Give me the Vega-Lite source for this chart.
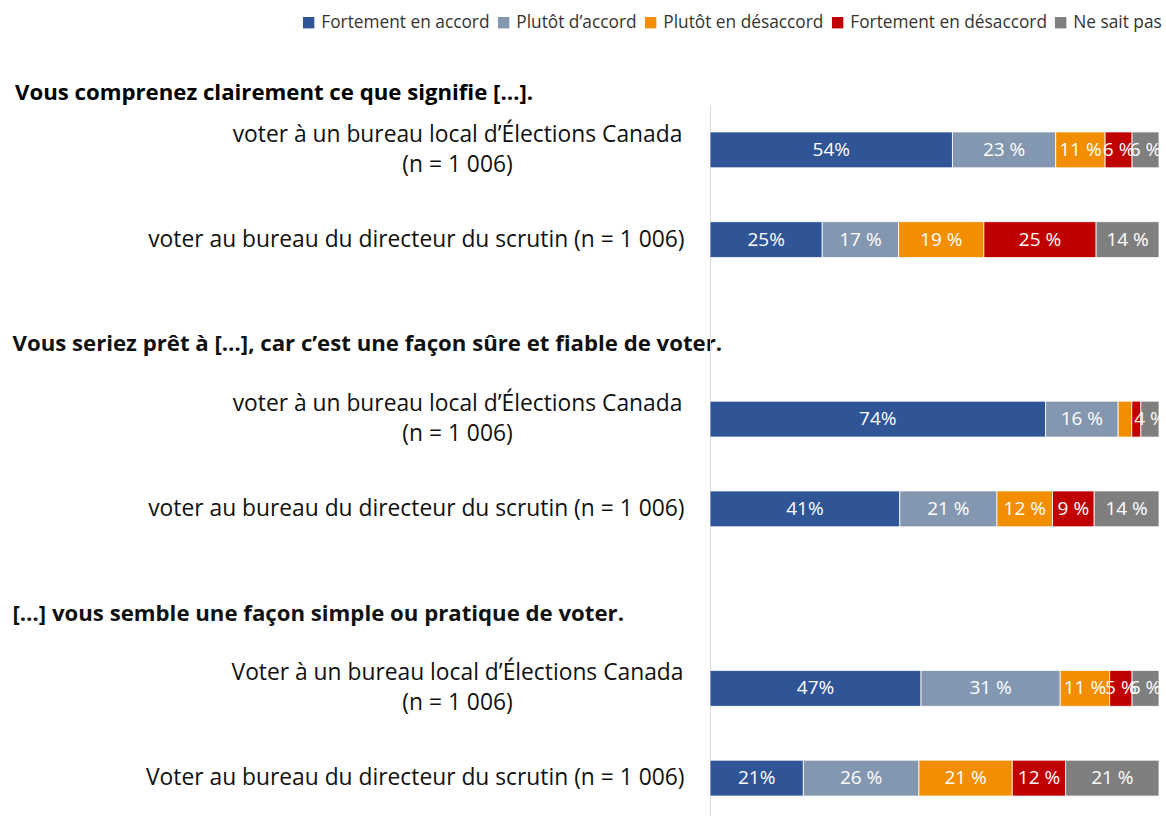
{
  "$schema": "https://vega.github.io/schema/vega-lite/v6.json",
  "autosize": "none",
  "padding": {"left": 710, "top": 105, "right": 7, "bottom": 0},
  "width": 449,
  "height": 718,
  "background": "white",
  "config": {"font": "Open Sans", "view": {"stroke": null}},
  "title": {
    "text": "Vous comprenez clairement ce que signifie […].",
    "anchor": "start",
    "frame": "group",
    "dx": -695,
    "dy": 111,
    "fontSize": 22.2,
    "fontWeight": "bold",
    "font": "Open Sans",
    "color": "#000000",
    "baseline": "alphabetic",
    "offset": 3
  },
  "data": {
    "values": [
      {"item": "1a|voter à un bureau local d’Élections Canada|(n = 1 006)", "resp": "Fortement en accord", "k": 1, "value": 54, "txt": "54%"},
      {"item": "1a|voter à un bureau local d’Élections Canada|(n = 1 006)", "resp": "Plutôt d’accord", "k": 2, "value": 23, "txt": "23 %"},
      {"item": "1a|voter à un bureau local d’Élections Canada|(n = 1 006)", "resp": "Plutôt en désaccord", "k": 3, "value": 11, "txt": "11 %"},
      {"item": "1a|voter à un bureau local d’Élections Canada|(n = 1 006)", "resp": "Fortement en désaccord", "k": 4, "value": 6, "txt": "6 %"},
      {"item": "1a|voter à un bureau local d’Élections Canada|(n = 1 006)", "resp": "Ne sait pas", "k": 5, "value": 6, "txt": "6 %"},
      {"item": "1b|voter au bureau du directeur du scrutin (n = 1 006)", "resp": "Fortement en accord", "k": 1, "value": 25, "txt": "25%"},
      {"item": "1b|voter au bureau du directeur du scrutin (n = 1 006)", "resp": "Plutôt d’accord", "k": 2, "value": 17, "txt": "17 %"},
      {"item": "1b|voter au bureau du directeur du scrutin (n = 1 006)", "resp": "Plutôt en désaccord", "k": 3, "value": 19, "txt": "19 %"},
      {"item": "1b|voter au bureau du directeur du scrutin (n = 1 006)", "resp": "Fortement en désaccord", "k": 4, "value": 25, "txt": "25 %"},
      {"item": "1b|voter au bureau du directeur du scrutin (n = 1 006)", "resp": "Ne sait pas", "k": 5, "value": 14, "txt": "14 %"},
      {"item": "2a|voter à un bureau local d’Élections Canada|(n = 1 006)", "resp": "Fortement en accord", "k": 1, "value": 74, "txt": "74%"},
      {"item": "2a|voter à un bureau local d’Élections Canada|(n = 1 006)", "resp": "Plutôt d’accord", "k": 2, "value": 16, "txt": "16 %"},
      {"item": "2a|voter à un bureau local d’Élections Canada|(n = 1 006)", "resp": "Plutôt en désaccord", "k": 3, "value": 3, "txt": ""},
      {"item": "2a|voter à un bureau local d’Élections Canada|(n = 1 006)", "resp": "Fortement en désaccord", "k": 4, "value": 2, "txt": ""},
      {"item": "2a|voter à un bureau local d’Élections Canada|(n = 1 006)", "resp": "Ne sait pas", "k": 5, "value": 4, "txt": "4 %"},
      {"item": "2b|voter au bureau du directeur du scrutin (n = 1 006)", "resp": "Fortement en accord", "k": 1, "value": 41, "txt": "41%"},
      {"item": "2b|voter au bureau du directeur du scrutin (n = 1 006)", "resp": "Plutôt d’accord", "k": 2, "value": 21, "txt": "21 %"},
      {"item": "2b|voter au bureau du directeur du scrutin (n = 1 006)", "resp": "Plutôt en désaccord", "k": 3, "value": 12, "txt": "12 %"},
      {"item": "2b|voter au bureau du directeur du scrutin (n = 1 006)", "resp": "Fortement en désaccord", "k": 4, "value": 9, "txt": "9 %"},
      {"item": "2b|voter au bureau du directeur du scrutin (n = 1 006)", "resp": "Ne sait pas", "k": 5, "value": 14, "txt": "14 %"},
      {"item": "3a|Voter à un bureau local d’Élections Canada|(n = 1 006)", "resp": "Fortement en accord", "k": 1, "value": 47, "txt": "47%"},
      {"item": "3a|Voter à un bureau local d’Élections Canada|(n = 1 006)", "resp": "Plutôt d’accord", "k": 2, "value": 31, "txt": "31 %"},
      {"item": "3a|Voter à un bureau local d’Élections Canada|(n = 1 006)", "resp": "Plutôt en désaccord", "k": 3, "value": 11, "txt": "11 %"},
      {"item": "3a|Voter à un bureau local d’Élections Canada|(n = 1 006)", "resp": "Fortement en désaccord", "k": 4, "value": 5, "txt": "5 %"},
      {"item": "3a|Voter à un bureau local d’Élections Canada|(n = 1 006)", "resp": "Ne sait pas", "k": 5, "value": 6, "txt": "6 %"},
      {"item": "3b|Voter au bureau du directeur du scrutin (n = 1 006)", "resp": "Fortement en accord", "k": 1, "value": 21, "txt": "21%"},
      {"item": "3b|Voter au bureau du directeur du scrutin (n = 1 006)", "resp": "Plutôt d’accord", "k": 2, "value": 26, "txt": "26 %"},
      {"item": "3b|Voter au bureau du directeur du scrutin (n = 1 006)", "resp": "Plutôt en désaccord", "k": 3, "value": 21, "txt": "21 %"},
      {"item": "3b|Voter au bureau du directeur du scrutin (n = 1 006)", "resp": "Fortement en désaccord", "k": 4, "value": 12, "txt": "12 %"},
      {"item": "3b|Voter au bureau du directeur du scrutin (n = 1 006)", "resp": "Ne sait pas", "k": 5, "value": 21, "txt": "21 %"}
    ]
  },
  "transform": [
    {"stack": "value", "groupby": ["item"], "sort": [{"field": "k", "order": "ascending"}], "offset": "normalize", "as": ["x0", "x1"]},
    {"calculate": "(datum.x0 + datum.x1) / 2", "as": "xm"}
  ],
  "encoding": {
    "y": {
      "field": "item",
      "type": "nominal",
      "title": null,
      "scale": {
        "domain": [
          "1a|voter à un bureau local d’Élections Canada|(n = 1 006)",
          "1b|voter au bureau du directeur du scrutin (n = 1 006)",
          "2|Vous seriez prêt à […], car c’est une façon sûre et fiable de voter.",
          "2a|voter à un bureau local d’Élections Canada|(n = 1 006)",
          "2b|voter au bureau du directeur du scrutin (n = 1 006)",
          "3|[…] vous semble une façon simple ou pratique de voter.",
          "3a|Voter à un bureau local d’Élections Canada|(n = 1 006)",
          "3b|Voter au bureau du directeur du scrutin (n = 1 006)"
        ],
        "paddingInner": 0.6,
        "paddingOuter": 0.3
      },
      "axis": {
        "title": null,
        "ticks": false,
        "tickSize": 0,
        "grid": false,
        "domainColor": "#D9D9D9",
        "domainWidth": 1,
        "labelExpr": "slice(split(datum.value, '|'), 1)",
        "labelFont": "Open Sans",
        "labelLimit": 900,
        "labelOverlap": false,
        "labelLineHeight": 30,
        "labelBaseline": "middle",
        "labelColor": "#111111",
        "labelFontSize": {"condition": {"test": "indexof(datum.value, '|') == 1", "value": 22.2}, "value": 22.8},
        "labelFontWeight": {"condition": {"test": "indexof(datum.value, '|') == 1", "value": "bold"}, "value": "normal"},
        "labelAlign": {"condition": [
          {"test": "indexof(datum.value, '|') == 1", "value": "left"},
          {"test": "length(split(datum.value, '|')) == 3", "value": "center"}
        ], "value": "right"},
        "labelPadding": {"condition": [
          {"test": "indexof(datum.value, '|') == 1", "value": 698},
          {"test": "length(split(datum.value, '|')) == 3", "value": 253}
        ], "value": 26},
        "labelOffset": {"condition": [
          {"test": "indexof(datum.value, '|') == 1", "value": 15},
          {"test": "length(split(datum.value, '|')) == 3", "value": -15}
        ], "value": 0}
      }
    }
  },
  "layer": [
    {
      "mark": {"type": "bar", "stroke": "white", "strokeWidth": 0.8},
      "encoding": {
        "x": {"field": "x0", "type": "quantitative", "scale": {"domain": [0, 1]}, "axis": null},
        "x2": {"field": "x1"},
        "color": {
          "field": "resp",
          "type": "nominal",
          "title": null,
          "scale": {
            "domain": ["Fortement en accord", "Plutôt d’accord", "Plutôt en désaccord", "Fortement en désaccord", "Ne sait pas"],
            "range": ["#2F5597", "#8497B0", "#F28E00", "#C00000", "#7F7F7F"]
          },
          "legend": {
            "orient": "none",
            "legendX": -410,
            "legendY": -91,
            "direction": "horizontal",
            "title": null,
            "symbolType": "square",
            "symbolSize": 130,
            "symbolStrokeWidth": 0,
            "labelFont": "Open Sans",
            "labelFontSize": 17.3,
            "labelColor": "#333333",
            "labelOffset": 4,
            "columnPadding": 5,
            "labelLimit": 300
          }
        }
      }
    },
    {
      "mark": {"type": "text", "color": "white", "fontSize": 19, "font": "Open Sans", "baseline": "middle", "align": "center"},
      "encoding": {
        "x": {"field": "xm", "type": "quantitative"},
        "text": {"field": "txt"}
      }
    }
  ]
}
